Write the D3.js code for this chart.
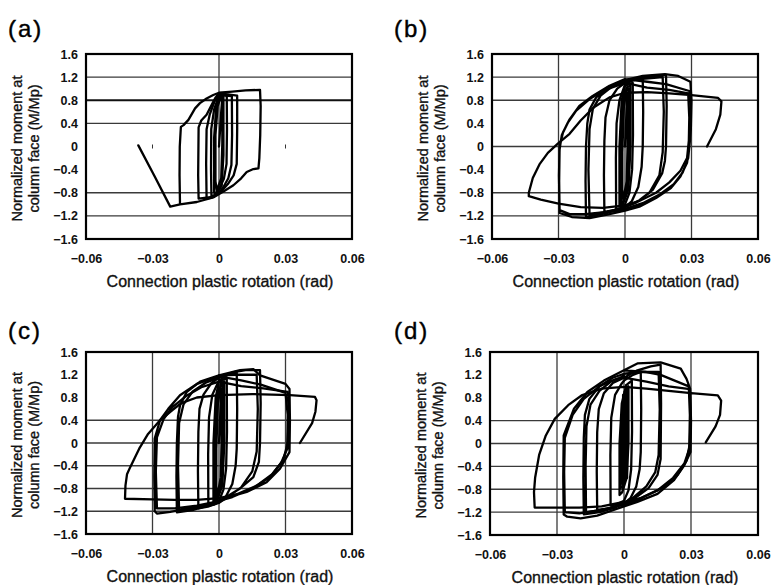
<!DOCTYPE html>
<html>
<head>
<meta charset="utf-8">
<script src="https://cdn.jsdelivr.net/npm/d3@7"></script>
<style>
  body { margin: 0; background: #fff; }
  svg { display: block; }
</style>
</head>
<body>
<div id="chart"></div>
<script>
// Tick values shared by all four panels
const xTicks = [-0.06, -0.03, 0, 0.03, 0.06];
const yTicks = [1.6, 1.2, 0.8, 0.4, 0, -0.4, -0.8, -1.2, -1.6];

// Grid lines that show in each panel
const gridHA = [1.2, 0.8, 0.4, -0.8, -1.2];
const gridVA = [0];
const gridHB = [1.2, 0.8, 0, -0.8, -1.2];
const gridVB = [-0.03, 0, 0.03];
const gridHC = [0.4, 0, -0.4, -0.8, -1.2];
const gridVC = [-0.03, 0, 0.03];
const gridHD = [0.4, 0, -0.4, -0.8, -1.2];
const gridVD = [-0.03, 0, 0.03];

// small stray tick marks in panel (a)
const marksA = [[-0.03, 0], [0.03, 0]];

// Hysteresis loops, [rotation (rad), M/Mp]
const loopsA = [
  [[0,0],[0.001,0.6],[0.0015,0.86],[0.0015,0.05],[0.001,-0.55],[-0.001,-0.76],[-0.0016,-0.6],[-0.0016,0.2],[-0.0006,0.7],[0.001,0.88],[0.002,0.9],[0.002,-0.15],[0.0012,-0.68],[-0.001,-0.8],[-0.0022,-0.8],[-0.0022,0.15],[-0.0012,0.72],[0.001,0.9]],
  [[0.001,0.9],[0.0035,0.88],[0.0036,0.3],[0.0034,-0.3],[0.0022,-0.56],[0,-0.74],[-0.002,-0.84],[-0.0034,-0.87],[-0.0036,-0.4],[-0.0035,0.3],[-0.0022,0.64],[0,0.88]],
  [[0,0.9],[0.003,0.88],[0.0058,0.87],[0.0059,0.2],[0.0056,-0.32],[0.0042,-0.55],[0.002,-0.7],[0,-0.8],[-0.003,-0.88],[-0.0056,-0.9],[-0.0058,-0.3],[-0.0056,0.3],[-0.0042,0.55],[-0.002,0.78],[0,0.9]],
  [[0,0.92],[0.004,0.9],[0.0082,0.88],[0.0082,0.3],[0.008,-0.3],[0.0066,-0.5],[0.004,-0.65],[0.001,-0.78],[-0.003,-0.87],[-0.0092,-0.9],[-0.0094,-0.5],[-0.0092,0.33],[-0.008,0.45],[-0.0056,0.55],[-0.0033,0.72],[-0.0015,0.85],[0,0.92]],
  [[-0.0176,-0.98],[-0.0178,-0.5],[-0.0177,0.0],[-0.0172,0.34],[-0.016,0.37],[-0.0138,0.46],[-0.0108,0.66],[-0.0086,0.75],[-0.0056,0.83],[-0.0026,0.89],[0,0.93],[0.006,0.95],[0.012,0.97],[0.0185,0.98],[0.0188,0.7],[0.0186,0.2],[0.0182,-0.2],[0.0178,-0.38],[0.0155,-0.39],[0.0125,-0.44],[0.01,-0.55],[0.0065,-0.67],[0.002,-0.78],[-0.0026,-0.88],[-0.01,-0.96],[-0.0176,-1.0],[-0.022,-1.04],[-0.029,-0.52],[-0.0364,0.02]]
];

const loopsB = [
  [[0,0],[0.0008,0.7],[0.0012,0.92],[0.0012,0.1],[0.0008,-0.6],[-0.0005,-0.85],[-0.0012,-0.9],[-0.0012,-0.1],[-0.0005,0.7],[0.0008,0.98],[0.0018,1.0],[0.0018,0.0],[0.001,-0.7],[-0.0008,-0.95],[-0.0018,-1.0],[-0.0018,0.0],[-0.001,0.75],[0.001,1.03],[0.0025,1.05],[0.0025,0.0],[0.0015,-0.75],[-0.001,-1.0],[-0.0025,-1.03],[-0.0025,0.0],[-0.0015,0.8],[0,1.05]],
  [[0,1.05],[0.0035,1.1],[0.0036,0.2],[0.0032,-0.4],[0.002,-0.8],[0,-1.0],[-0.002,-1.07],[-0.004,-1.08],[-0.0041,-0.2],[-0.0038,0.4],[-0.0025,0.8],[0,1.07]],
  [[0,1.08],[0.004,1.15],[0.008,1.18],[0.0082,0.6],[0.008,0.0],[0.0075,-0.35],[0.006,-0.7],[0.003,-0.95],[0,-1.05],[-0.005,-1.1],[-0.0093,-1.13],[-0.0095,-0.5],[-0.0093,0.1],[-0.0088,0.5],[-0.007,0.8],[-0.0035,1.0],[0,1.1]],
  [[0,1.1],[0.006,1.18],[0.012,1.22],[0.0185,1.24],[0.0188,0.7],[0.0185,0.0],[0.018,-0.25],[0.0168,-0.46],[0.0125,-0.75],[0.0065,-0.93],[0,-1.05],[-0.008,-1.15],[-0.0176,-1.22],[-0.0178,-0.6],[-0.0176,0.0],[-0.017,0.4],[-0.016,0.64],[-0.013,0.85],[-0.008,1.02],[-0.003,1.1],[0,1.13],[0.008,1.17],[0.017,1.2],[0.0175,0.6],[0.017,-0.1],[0.0155,-0.5],[0.011,-0.8],[0.005,-0.97],[0,-1.05],[-0.008,-1.13],[-0.016,-1.18],[-0.0165,-0.4],[-0.016,0.3],[-0.0145,0.65],[-0.011,0.88],[-0.006,1.03],[0,1.13]],
  [[0,1.15],[0.008,1.22],[0.018,1.25],[0.024,1.22],[0.0295,1.12],[0.030,0.8],[0.0297,0.3],[0.029,0.0],[0.028,-0.28],[0.025,-0.52],[0.0207,-0.72],[0.014,-0.89],[0.0065,-1.04],[0,-1.11],[-0.008,-1.18],[-0.016,-1.24],[-0.024,-1.22],[-0.0295,-1.15],[-0.0297,-0.6],[-0.0295,0.0],[-0.028,0.24],[-0.025,0.47],[-0.0206,0.7],[-0.0146,0.875],[-0.007,1.05],[0,1.165],[0.01,1.12],[0.0185,1.08],[0.029,0.96],[0.0298,0.6],[0.0293,0.1],[0.0285,-0.2],[0.026,-0.45],[0.022,-0.65],[0.016,-0.82],[0.008,-0.98],[0,-1.08],[-0.008,-1.13],[-0.018,-1.17],[-0.025,-1.17],[-0.0295,-1.1],[-0.0298,-0.5],[-0.0295,-0.05],[-0.0285,0.2],[-0.026,0.4],[-0.022,0.62],[-0.016,0.82],[-0.009,0.98],[0,1.1]],
  [[0,1.1],[0.01,1.02],[0.02,0.98],[0.0285,0.92],[0.029,0.5],[0.0288,0.1],[0.028,-0.2],[0.025,-0.42],[0.02,-0.62],[0.014,-0.8],[0.006,-0.95],[0,-1.02],[-0.01,-1.06],[-0.02,-1.05],[-0.03,-0.99],[-0.038,-0.92],[-0.0434,-0.86],[-0.0434,-0.8],[-0.0416,-0.545],[-0.0386,-0.31],[-0.0348,-0.11],[-0.0303,0.05],[-0.025,0.22],[-0.02,0.45],[-0.014,0.68],[-0.007,0.85],[0,0.93],[0.01,0.94],[0.02,0.92],[0.03,0.89],[0.042,0.84],[0.0435,0.78],[0.043,0.55],[0.041,0.3],[0.037,0.0]]
];

const loopsC = [
  [[0,0],[0.0008,0.7],[0.0012,0.95],[0.0012,0.1],[0.0008,-0.6],[-0.0005,-0.88],[-0.0012,-0.95],[-0.0012,-0.1],[-0.0005,0.7],[0.0008,1.0],[0.0018,1.03],[0.0018,0.0],[0.001,-0.7],[-0.0008,-0.97],[-0.0018,-1.02],[-0.0018,0.0],[-0.001,0.75],[0.001,1.05],[0.0024,1.08],[0.0024,0.0],[0.0015,-0.75],[-0.001,-1.02],[-0.0025,-1.05],[-0.0025,0.0],[-0.0015,0.8],[0,1.08]],
  [[0,1.08],[0.0035,1.14],[0.0036,0.2],[0.0032,-0.45],[0.002,-0.82],[0,-1.02],[-0.002,-1.08],[-0.0048,-1.1],[-0.0049,-0.2],[-0.0045,0.45],[-0.003,0.85],[0,1.1]],
  [[0,1.1],[0.004,1.2],[0.008,1.24],[0.0082,0.6],[0.008,-0.1],[0.0075,-0.4],[0.006,-0.72],[0.003,-0.95],[0,-1.05],[-0.005,-1.12],[-0.0093,-1.15],[-0.0095,-0.5],[-0.0093,0.2],[-0.0088,0.6],[-0.007,0.85],[-0.0035,1.05],[0,1.15]],
  [[0,1.15],[0.006,1.24],[0.012,1.28],[0.0185,1.28],[0.0188,0.7],[0.0185,0.0],[0.018,-0.33],[0.0155,-0.6],[0.0095,-0.8],[0.002,-0.98],[-0.005,-1.1],[-0.012,-1.18],[-0.019,-1.22],[-0.0192,-0.6],[-0.019,0.0],[-0.0185,0.46],[-0.0176,0.66],[-0.0145,0.9],[-0.0085,1.08],[0,1.19],[0.008,1.2],[0.017,1.2],[0.0175,0.6],[0.017,-0.15],[0.015,-0.5],[0.01,-0.78],[0.004,-0.95],[0,-1.05],[-0.008,-1.13],[-0.018,-1.18],[-0.0185,-0.4],[-0.018,0.35],[-0.016,0.68],[-0.012,0.9],[-0.006,1.06],[0,1.15]],
  [[0,1.19],[0.0095,1.28],[0.0155,1.3],[0.0185,1.19],[0.03,1.04],[0.0318,0.95],[0.032,0.4],[0.0318,-0.16],[0.0275,-0.45],[0.0215,-0.69],[0.0125,-0.86],[0.002,-0.98],[-0.0056,-1.1],[-0.013,-1.15],[-0.022,-1.21],[-0.028,-1.24],[-0.029,-1.2],[-0.0292,-0.6],[-0.029,0.08],[-0.0266,0.4],[-0.0229,0.6],[-0.0176,0.84],[-0.01,1.04],[0,1.17],[0.01,1.1],[0.0185,1.03],[0.03,0.88],[0.031,0.5],[0.0308,-0.1],[0.028,-0.35],[0.023,-0.6],[0.015,-0.8],[0.006,-0.95],[0,-1.02],[-0.01,-1.1],[-0.02,-1.15],[-0.028,-1.15],[-0.0285,-0.5],[-0.028,0.1],[-0.025,0.42],[-0.021,0.63],[-0.015,0.82],[-0.008,0.98],[0,1.08]],
  [[0,1.08],[0.01,1.0],[0.02,0.96],[0.031,0.9],[0.0315,0.5],[0.031,0.0],[0.029,-0.3],[0.024,-0.55],[0.017,-0.75],[0.008,-0.9],[0,-0.97],[-0.01,-1.0],[-0.02,-1.0],[-0.03,-0.99],[-0.0424,-0.98],[-0.0422,-0.75],[-0.0415,-0.55],[-0.04,-0.42],[-0.036,-0.1],[-0.032,0.16],[-0.0266,0.4],[-0.021,0.58],[-0.017,0.7],[-0.01,0.8],[0,0.84],[0.015,0.86],[0.032,0.84],[0.0433,0.81],[0.044,0.75],[0.0435,0.55],[0.042,0.35],[0.0365,0.0]]
];

const loopsD = [
  [[0,0],[0.0006,0.6],[0.001,0.9],[0.0012,0.96],[0.0012,0.2],[0.0008,-0.4],[0,-0.65],[-0.001,-0.7],[-0.0012,-0.3],[-0.001,0.4],[0,0.85],[0.0015,0.95],[0.0016,0.1],[0.001,-0.5],[-0.0005,-0.75],[-0.0015,-0.78],[-0.0016,-0.2],[-0.001,0.5],[0.0005,0.92],[0.002,1.0],[0.002,0.0],[0.0012,-0.6],[-0.0008,-0.85],[-0.002,-0.9],[-0.002,0.0],[-0.001,0.7],[0.001,1.02]],
  [[0.0002,0.9],[0.0014,0.9],[0.0014,-0.6],[-0.0004,-0.65],[-0.0004,0.85],[0.0012,0.88],[0.0012,-0.55],[0,-0.6],[0,0.8],[0.001,0.8],[0.001,-0.5]],
  [[0.001,1.02],[0.0035,1.1],[0.0036,0.2],[0.0032,-0.45],[0.002,-0.82],[0,-1.0],[-0.003,-1.06],[-0.006,-1.08],[-0.0061,-0.2],[-0.0057,0.45],[-0.004,0.85],[-0.001,1.05],[0,1.1]],
  [[0,1.1],[0.004,1.2],[0.0075,1.25],[0.0077,0.6],[0.0075,-0.15],[0.007,-0.45],[0.0055,-0.75],[0.003,-0.95],[0,-1.05],[-0.006,-1.13],[-0.012,-1.16],[-0.0122,-0.5],[-0.012,0.2],[-0.0113,0.6],[-0.009,0.88],[-0.005,1.06],[0,1.15]],
  [[0,1.15],[0.006,1.28],[0.012,1.35],[0.0164,1.38],[0.0166,0.7],[0.0164,-0.27],[0.015,-0.55],[0.011,-0.78],[0.004,-0.98],[-0.004,-1.12],[-0.011,-1.2],[-0.018,-1.24],[-0.0182,-0.6],[-0.018,0.1],[-0.0175,0.5],[-0.0155,0.78],[-0.011,1.0],[-0.005,1.15],[0,1.22],[0.008,1.25],[0.0155,1.25],[0.016,0.6],[0.0155,-0.2],[0.014,-0.5],[0.01,-0.75],[0.004,-0.95],[0,-1.05],[-0.008,-1.15],[-0.017,-1.2],[-0.0172,-0.4],[-0.0168,0.3],[-0.015,0.68],[-0.011,0.92],[-0.006,1.08],[0,1.18]],
  [[0,1.28],[0.006,1.4],[0.0164,1.42],[0.0254,1.31],[0.028,1.13],[0.0296,0.96],[0.03,0.4],[0.0298,-0.15],[0.027,-0.38],[0.0224,-0.64],[0.015,-0.88],[0.006,-1.02],[-0.003,-1.14],[-0.012,-1.26],[-0.0194,-1.31],[-0.0254,-1.28],[-0.027,-1.24],[-0.0272,-0.6],[-0.027,0.14],[-0.0224,0.61],[-0.0164,0.9],[-0.009,1.1],[0,1.28],[0.01,1.25],[0.0164,1.2],[0.029,1.0],[0.0295,0.5],[0.0292,-0.1],[0.027,-0.35],[0.022,-0.6],[0.015,-0.82],[0.006,-0.98],[0,-1.06],[-0.01,-1.16],[-0.02,-1.22],[-0.0265,-1.2],[-0.0268,-0.5],[-0.0265,0.1],[-0.023,0.5],[-0.018,0.78],[-0.011,1.0],[-0.004,1.12],[0,1.15]],
  [[0,1.15],[0.01,1.08],[0.02,1.0],[0.0295,0.95],[0.0298,0.5],[0.0295,0.0],[0.028,-0.3],[0.024,-0.55],[0.017,-0.78],[0.008,-0.95],[0,-1.02],[-0.01,-1.1],[-0.02,-1.12],[-0.03,-1.12],[-0.04,-1.12],[-0.0403,-0.85],[-0.0398,-0.6],[-0.038,-0.2],[-0.035,0.14],[-0.031,0.43],[-0.025,0.67],[-0.019,0.84],[-0.01,0.96],[0,0.99],[0.01,0.96],[0.02,0.92],[0.03,0.88],[0.042,0.84],[0.0435,0.75],[0.043,0.5],[0.041,0.3],[0.0366,0.02]]
];

// Panel layout
const panels = [
  {label: "(a)", lx: 8,   ly: 37,  left: 86,  right: 352, top: 54,  bottom: 239, loops: loopsA, gridH: gridHA, gridV: gridVA, thickH: 0.8, marks: marksA},
  {label: "(b)", lx: 394, ly: 37,  left: 492, right: 758, top: 54,  bottom: 239, loops: loopsB, gridH: gridHB, gridV: gridVB},
  {label: "(c)", lx: 8,   ly: 339, left: 86,  right: 352, top: 352, bottom: 534, loops: loopsC, gridH: gridHC, gridV: gridVC},
  {label: "(d)", lx: 394, ly: 339, left: 490, right: 758, top: 352, bottom: 535, loops: loopsD, gridH: gridHD, gridV: gridVD}
];

const width = 772, height = 585;
const font = "'Liberation Sans', Arial, sans-serif";

const svg = d3.select("#chart")
    .append("svg")
    .attr("width", width)
    .attr("height", height);

const fmtX = d => d === 0 ? "0" : d3.format(".2f")(d);
const fmtY = d => d === 0 ? "0" : d3.format(".1f")(d);

panels.forEach(p => {
    const x = d3.scaleLinear().domain([-0.06, 0.06]).range([p.left, p.right]);
    const y = d3.scaleLinear().domain([-1.6, 1.6]).range([p.bottom, p.top]);
    const g = svg.append("g");

    // grid
    g.selectAll(".gh")
        .data(p.gridH)
        .join("line")
        .attr("x1", p.left).attr("x2", p.right)
        .attr("y1", d => y(d)).attr("y2", d => y(d))
        .attr("stroke", d => d === p.thickH ? "#111" : "#3a3a3a")
        .attr("stroke-width", d => d === p.thickH ? 2.2 : 1.3);

    g.selectAll(".gv")
        .data(p.gridV)
        .join("line")
        .attr("y1", p.top).attr("y2", p.bottom)
        .attr("x1", d => x(d)).attr("x2", d => x(d))
        .attr("stroke", "#3a3a3a")
        .attr("stroke-width", 1.3);

    if (p.marks) {
        g.selectAll(".mk")
            .data(p.marks)
            .join("line")
            .attr("x1", d => x(d[0])).attr("x2", d => x(d[0]))
            .attr("y1", d => y(d[1]) - 2).attr("y2", d => y(d[1]) + 2)
            .attr("stroke", "#333");
    }

    // loops
    const line = d3.line()
        .x(d => x(d[0]))
        .y(d => y(d[1]));

    g.selectAll(".loop")
        .data(p.loops)
        .join("path")
        .attr("d", line)
        .attr("fill", "none")
        .attr("stroke", "#000")
        .attr("stroke-width", 2.3)
        .attr("stroke-linejoin", "round")
        .attr("stroke-linecap", "round");

    // frame
    g.append("rect")
        .attr("x", p.left).attr("y", p.top)
        .attr("width", p.right - p.left)
        .attr("height", p.bottom - p.top)
        .attr("fill", "none")
        .attr("stroke", "#000")
        .attr("stroke-width", 2.2);

    // axes
    const ax = g.append("g")
        .attr("transform", `translate(0,${p.bottom})`)
        .call(d3.axisBottom(x).tickValues(xTicks).tickSize(0).tickPadding(15).tickFormat(fmtX));
    const ay = g.append("g")
        .attr("transform", `translate(${p.left},0)`)
        .call(d3.axisLeft(y).tickValues(yTicks).tickSize(0).tickPadding(8).tickFormat(fmtY));
    [ax, ay].forEach(a => {
        a.select(".domain").remove();
        a.attr("font-family", font).attr("font-size", 12.5).attr("font-weight", "bold");
        a.selectAll("text").attr("fill", "#111");
    });

    // titles
    g.append("text")
        .attr("x", (p.left + p.right) / 2 + 1)
        .attr("y", p.bottom + 48)
        .attr("text-anchor", "middle")
        .attr("font-family", font)
        .attr("font-size", 16)
        .attr("fill", "#111")
        .attr("stroke", "#111")
        .attr("stroke-width", 0.35)
        .text("Connection plastic rotation (rad)");

    const cy = (p.top + p.bottom) / 2 + 2;
    const yt = g.append("text")
        .attr("transform", `translate(${p.left - 64},${cy}) rotate(-90)`)
        .attr("text-anchor", "middle")
        .attr("font-family", font)
        .attr("font-size", 14.5)
        .attr("fill", "#111")
        .attr("stroke", "#111")
        .attr("stroke-width", 0.35);
    yt.append("tspan").attr("x", 0).attr("y", 0).text("Normalized moment at");
    yt.append("tspan").attr("x", 0).attr("y", 17).text("column face (M/Mp)");

    g.append("text")
        .attr("x", p.lx)
        .attr("y", p.ly)
        .attr("font-family", font)
        .attr("font-size", 24)
        .attr("letter-spacing", 2)
        .attr("fill", "#000")
        .attr("stroke", "#000")
        .attr("stroke-width", 0.4)
        .text(p.label);
});
</script>
</body>
</html>
